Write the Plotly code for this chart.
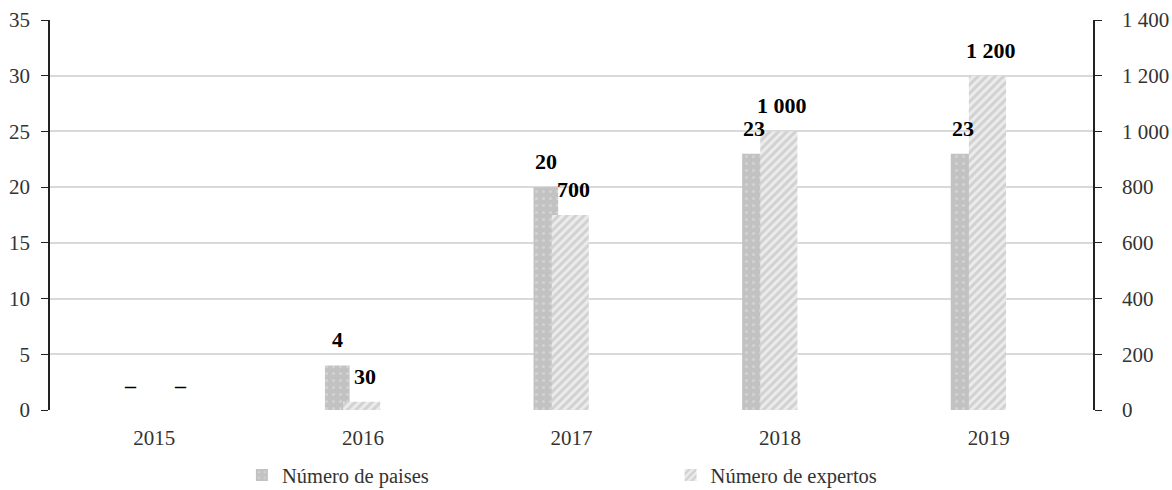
import plotly.graph_objects as go

years = ["2015", "2016", "2017", "2018", "2019"]
paises = [None, 4, 20, 23, 23]
expertos = [None, 30, 700, 1000, 1200]
paises_labels = ["–", "4", "20", "23", "23"]
expertos_labels = ["–", "30", "700", "1 000", "1 200"]
left_ticks = [0, 5, 10, 15, 20, 25, 30, 35]
right_ticks = [0, 200, 400, 600, 800, 1000, 1200, 1400]

FONT = "Liberation Serif"
TXT = "#333333"
P_OFF, P_W = -0.182, 0.118
E_OFF, E_W = -0.095, 0.178

fig = go.Figure()
fig.add_trace(go.Bar(
    x=years, y=paises, name="Número de paises", yaxis="y", legend="legend",
    offset=P_OFF, width=P_W,
    marker=dict(color="#c4c4c4", line=dict(width=0),
                pattern=dict(shape=".", fgcolor="#e3e3e3", bgcolor="#c2c2c2", size=7, solidity=0.15)),
))
fig.add_trace(go.Bar(
    x=years, y=expertos, name="Número de expertos", yaxis="y2", legend="legend2",
    offset=E_OFF, width=E_W,
    marker=dict(color="#e0e0e0", line=dict(width=0),
                pattern=dict(shape="/", fgcolor="#b5b5b5", bgcolor="#ececec", size=6, solidity=0.5)),
))

LBL = dict(family=FONT, size=22, color="black")
DASH = dict(family=FONT, size=22, color="black")
ann = []
for i, (v, t) in enumerate(zip(paises, paises_labels)):
    if v is None:
        ann.append(dict(x=i - 0.115, y=0, xref="x", yref="y", text="<b>%s</b>" % t, showarrow=False,
                        yanchor="bottom", yshift=10, font=DASH))
    else:
        ann.append(dict(x=i + P_OFF + P_W / 2, y=v, xref="x", yref="y", text="<b>%s</b>" % t,
                        showarrow=False, yanchor="bottom", yshift=11, font=LBL))
for i, (v, t) in enumerate(zip(expertos, expertos_labels)):
    if v is None:
        ann.append(dict(x=i + 0.125, y=0, xref="x", yref="y2", text="<b>%s</b>" % t, showarrow=False,
                        yanchor="bottom", yshift=10, font=DASH))
    else:
        ann.append(dict(x=i + E_OFF + E_W / 2 + 0.015, y=v, xref="x", yref="y2", text="<b>%s</b>" % t,
                        showarrow=False, yanchor="bottom", yshift=11, font=LBL))

LEG = dict(orientation="h", xanchor="left", y=-0.167, yanchor="middle",
           font=dict(family=FONT, size=20.5, color=TXT), itemclick=False, bgcolor="rgba(0,0,0,0)")
TICKF = dict(family=FONT, size=21, color=TXT)

fig.update_layout(
    width=1172, height=490,
    margin=dict(l=50, r=79, t=20, b=80, autoexpand=False),
    paper_bgcolor="white", plot_bgcolor="white",
    separators=", ",
    barmode="overlay",
    font=dict(family=FONT, size=20, color=TXT),
    showlegend=True,
    legend=dict(LEG, x=0.184),
    legend2=dict(LEG, x=0.595),
    xaxis=dict(type="category", categoryorder="array", categoryarray=years,
               range=[-0.5, 4.5], showgrid=False, showline=False, zeroline=False,
               automargin=False,
               ticks="outside", ticklen=9, tickcolor="rgba(0,0,0,0)", tickfont=TICKF),
    yaxis=dict(range=[0, 35], tickvals=left_ticks, showgrid=True, gridcolor="#d9d9d9",
               gridwidth=1.5, zeroline=False, showline=True, linecolor="#222222", linewidth=1.5,
               automargin=False,
               ticks="outside", ticklen=7, tickcolor="#222222", ticklabelstandoff=7, tickfont=TICKF),
    yaxis2=dict(range=[0, 1400], tickvals=right_ticks, overlaying="y", side="right",
                showgrid=False, zeroline=False, showline=True, linecolor="#222222", linewidth=1.5,
                automargin=False,
                ticks="outside", ticklen=7, tickcolor="#222222", tickformat=",d", ticklabelstandoff=16,
                tickfont=TICKF),
    annotations=ann,
)

fig.write_html("out.html", config={"displayModeBar": False},
               post_script="document.body.style.margin='0';document.body.style.overflow='hidden';")
